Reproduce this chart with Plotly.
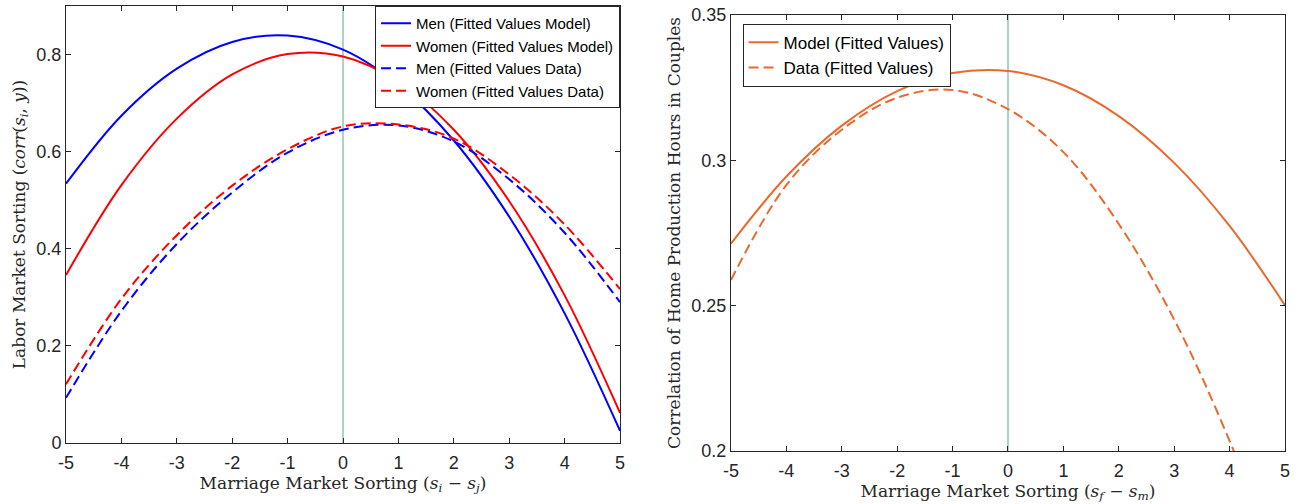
import plotly.graph_objects as go

x_vals = [-5, -4, -3, -2, -1, 0, 1, 2, 3, 4, 5]

# left panel: labor market sorting
men_model = [0.534, 0.674, 0.771, 0.826, 0.839, 0.810, 0.737, 0.623, 0.466, 0.267, 0.025]
women_model = [0.346, 0.531, 0.668, 0.759, 0.801, 0.796, 0.744, 0.645, 0.498, 0.304, 0.062]
men_data = [0.093, 0.272, 0.410, 0.516, 0.598, 0.645, 0.654, 0.621, 0.543, 0.433, 0.290]
women_data = [0.121, 0.297, 0.428, 0.530, 0.605, 0.652, 0.656, 0.627, 0.553, 0.450, 0.317]

# right panel: home production hours correlation
home_model = [0.2713, 0.2944, 0.3119, 0.3238, 0.3300, 0.3307, 0.3258, 0.3152, 0.2991, 0.2774, 0.2501]
home_data = [0.2588, 0.2915, 0.3105, 0.3215, 0.3242, 0.3176, 0.3028, 0.2781, 0.2452, 0.2035, 0.1540]

x_ticks = [-5, -4, -3, -2, -1, 0, 1, 2, 3, 4, 5]
x_ticktext = ["-5", "-4", "-3", "-2", "-1", "0", "1", "2", "3", "4", "5"]
left_yticks = [0, 0.2, 0.4, 0.6, 0.8]
left_yticktext = ["0", "0.2", "0.4", "0.6", "0.8"]
right_yticks = [0.2, 0.25, 0.3, 0.35]
right_yticktext = ["0.2", "0.25", "0.3", "0.35"]

BLUE = "#0000FF"
RED = "#FF0000"
ORANGE = "#E9692F"
AXC = "#262626"
DASH = "10px,5px"

fig = go.Figure()

def add_line(y, name, color, dash, xa, ya, legend):
    fig.add_trace(go.Scatter(
        x=x_vals, y=y, name=name, mode="lines",
        line=dict(color=color, width=2, dash=dash, shape="spline", smoothing=1.0),
        xaxis=xa, yaxis=ya, legend=legend,
    ))

add_line(men_model, "Men (Fitted Values Model)", BLUE, "solid", "x", "y", "legend")
add_line(women_model, "Women (Fitted Values Model)", RED, "solid", "x", "y", "legend")
add_line(men_data, "Men (Fitted Values Data)", BLUE, DASH, "x", "y", "legend")
add_line(women_data, "Women (Fitted Values Data)", RED, DASH, "x", "y", "legend")
add_line(home_model, "Model (Fitted Values)", ORANGE, "solid", "x2", "y2", "legend2")
add_line(home_data, "Data (Fitted Values)", ORANGE, DASH, "x2", "y2", "legend2")

# vertical reference line at zero in both panels
for xr, yr in [("x", "y domain"), ("x2", "y2 domain")]:
    fig.add_shape(type="line", xref=xr, yref=yr, x0=0, x1=0, y0=0, y1=1,
                  line=dict(color="#5FA888", width=1), layer="below")

tickfont = dict(family="Liberation Sans, Arial", size=18, color=AXC)
titlefont = dict(family="DejaVu Serif, serif", size=17, color=AXC)

def xaxis_cfg(domain, anchor, title):
    return dict(
        domain=domain, anchor=anchor, range=[-5, 5],
        tickvals=x_ticks, ticktext=x_ticktext,
        ticks="inside", ticklen=5, tickcolor=AXC, ticklabelstandoff=3,
        showline=True, linecolor=AXC, linewidth=1, mirror="ticks",
        showgrid=False, zeroline=False, tickfont=tickfont, automargin=False,
        title=dict(text=title, font=titlefont, standoff=2),
    )

def yaxis_cfg(domain, anchor, rng, tv, tt, title):
    return dict(
        domain=domain, anchor=anchor, range=rng,
        tickvals=tv, ticktext=tt,
        ticks="inside", ticklen=5, tickcolor=AXC,
        showline=True, linecolor=AXC, linewidth=1, mirror="ticks",
        showgrid=False, zeroline=False, tickfont=tickfont, automargin=False,
        title=dict(text=title, font=titlefont, standoff=6),
    )

fig.update_layout(
    width=1299, height=504,
    paper_bgcolor="white", plot_bgcolor="white",
    margin=dict(l=66, r=14, t=6, b=53),
    showlegend=True,
    xaxis=xaxis_cfg([0.0, 0.4545], "y",
                    "Marriage Market Sorting (<i>s<sub>i</sub></i> \u2212 <i>s<sub>j</sub></i>)"),
    yaxis=yaxis_cfg([0.018, 1.0], "x", [0, 0.9], left_yticks, left_yticktext,
                    "Labor Market Sorting (<i>corr</i>(<i>s<sub>i</sub></i>, <i>y</i>))"),
    xaxis2=xaxis_cfg([0.5455, 1.0], "y2",
                     "Marriage Market Sorting (<i>s<sub>f</sub></i> \u2212 <i>s<sub>m</sub></i>)"),
    yaxis2=yaxis_cfg([0.0, 0.98], "x2", [0.2, 0.35], right_yticks, right_yticktext,
                     "Correlation of Home Production Hours in Couples"),
    legend=dict(
        x=0.4545, y=1.0, xanchor="right", yanchor="top",
        bgcolor="white", bordercolor=AXC, borderwidth=1,
        font=dict(family="Liberation Sans, Arial", size=15, color="black"),
        tracegroupgap=0, itemwidth=30,
    ),
    legend2=dict(
        x=0.555, y=0.96, xanchor="left", yanchor="top",
        bgcolor="white", bordercolor=AXC, borderwidth=1,
        font=dict(family="Liberation Sans, Arial", size=17, color="black"),
        tracegroupgap=0, itemwidth=30,
    ),
)

# drop the default page margin so the figure sits at the window's corner
fig.write_html("out.html", config={"displayModeBar": False},
               post_script="document.body.style.margin='0px';")
